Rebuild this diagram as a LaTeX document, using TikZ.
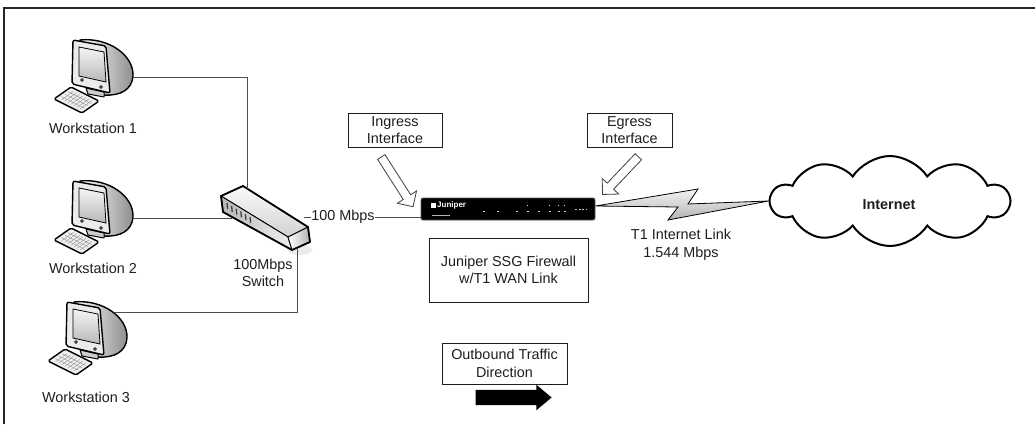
\documentclass[tikz,border=0pt]{standalone}
\usepackage{fontspec}
\setmainfont{Liberation Sans}
\usetikzlibrary{shapes.symbols,shapes.arrows}

\definecolor{wiregray}{HTML}{4D4D4D}
\definecolor{txt}{HTML}{1E1E1E}

\tikzset{
  lbl/.style={font=\fontsize{14.4}{17.5}\selectfont, text=txt, align=center, inner sep=0pt},
  callout/.style={lbl, draw=txt, line width=0.9pt, fill=white},
  wire/.style={draw=wiregray, line width=1pt},
  outline/.style={draw=black, line width=1.4pt, line join=round},
  hollowarrow/.style={single arrow, draw=black!75, fill=white, line width=0.8pt,
    inner xsep=0pt, inner ysep=4pt, single arrow head extend=7pt,
    single arrow tip angle=90},
  % CRT monitor with keyboard
  workstation/.pic={
    % curved back shell
    \draw[outline, left color=white, right color=black!45]
      (80,40) .. controls (108,37) and (134,55) .. (133,76)
              .. controls (132,90) and (120,96) .. (104,95) -- cycle;
    % stand
    \draw[outline, line width=1pt, fill=black!20] (86,88) -- (104,92) -- (104,97) -- (88,94) -- cycle;
    % front bezel
    \draw[outline, fill=black!8, rounded corners=2pt] (73,40) -- (106,46) -- (110,93) -- (72,84) -- cycle;
    % screen
    \draw[draw=black, line width=0.8pt, top color=black!4, bottom color=black!28]
      (79,47) -- (104,52) -- (106,82) -- (79,76) -- cycle;
    % knobs
    \draw[line width=0.6pt, fill=white] (82,80) circle (1.4) (101,87) circle (1.4);
    % keyboard in its own slanted frame
    \begin{scope}[shift={(54,99)}, x={(28pt,-14pt)}, y={(17pt,12pt)}]
      \draw[outline, fill=black!6, rounded corners=1.5pt] (0,0) -- (1,0) -- (1,1) -- (0,1) -- cycle;
      \foreach \s in {0.3,0.5,0.7}
        \draw[black!45, line width=0.4pt] (0.08,\s) -- (0.92,\s);
      \foreach \t in {0.18,0.29,0.4,0.51,0.62,0.73,0.84}
        \draw[black!45, line width=0.4pt] (\t,0.15) -- (\t,0.85);
    \end{scope}
    \coordinate (-port) at (133,77);
    \coordinate (-upper) at (121,50);
  }
}

\begin{document}
\begin{tikzpicture}[x=1pt, y=-1pt]
  \useasboundingbox (0,0) rectangle (1035,424);
  \fill[white] (0,0) rectangle (1035,424);

  % frame
  \draw[black!85, line width=1.6pt] (4,424) -- (4,8) -- (1035,8);

  % workstations
  \pic (ws1) at (0,0) {workstation};
  \pic (ws2) at (0,141) {workstation};
  \pic (ws3) at (-6,262) {workstation};
  \node[lbl] (ws1lbl) at (93,128) {Workstation 1};
  \node[lbl] (ws2lbl) at (93,268) {Workstation 2};
  \node[lbl] (ws3lbl) at (86,397) {Workstation 3};

  % switch
  \coordinate (p1) at (221,196);
  \coordinate (p2) at (243,186);
  \coordinate (p3) at (308,227);
  \coordinate (p4) at (288,237);
  \coordinate (p5) at (292,250);
  \coordinate (p6) at (310,242);
  \coordinate (p7) at (223,212);
  \fill[black!8] (300,250) ellipse (12 and 5);
  \draw[black, line width=0.9pt, top color=black!2, bottom color=black!18] (p1) -- (p2) -- (p3) -- (p4) -- cycle;
  \draw[black, line width=0.9pt, left color=black!28, right color=black!6] (p1) -- (p4) -- (p5) -- (p7) -- cycle;
  \draw[black, line width=0.9pt, left color=white, right color=black!30] (p4) -- (p3) -- (p6) -- (p5) -- cycle;
  \draw[outline, line width=1.8pt] (p1) -- (p2) -- (p3) -- (p6) -- (p5) -- (p7) -- cycle;
  \foreach \i in {0,...,5}
    \draw[black!75, line width=1.3pt] ({227+4.6*\i},{203+2.8*\i}) -- ({227.6+4.6*\i},{209+2.8*\i});
  \coordinate (sw-top) at (247,189);
  \coordinate (sw-left) at (232,218);
  \coordinate (sw-bottom) at (297,248);
  \coordinate (sw-east) at (304,217);
  \node[lbl] (swlbl) at (263,273) {100Mbps\\Switch};

  % wiring to the switch
  \draw[wire] (ws1-port) -| (sw-top);
  \draw[wire] (ws2-port) -- (sw-left);
  \draw[wire] (ws3-upper) -| (sw-bottom);

  % firewall appliance
  \node[fill=black, draw=black!65, line width=0.8pt, rounded corners=2pt,
        minimum width=174pt, minimum height=22pt, inner sep=0pt] (fw) at (508,209) {};
  \fill[white] (431,203) rectangle (436,208);
  \node[font=\fontsize{8}{8}\selectfont\bfseries, text=white, inner sep=0pt, anchor=west] (fwlogo) at (437,205.5) {Juniper};
  \draw[white!70!black, line width=0.6pt] (432,215.5) -- (450,215.5);
  \foreach \x in {483,497,516,527,538,549,558,564}
    \fill[white!85!black] (\x,210.5) rectangle +(1.6,1.6);
  \foreach \x in {527,549,558,564}
    \fill[white!85!black] (\x,205) rectangle +(1.2,1.2);
  \draw[white!80!black, line width=0.7pt, dash pattern=on 2pt off 1.5pt] (575,209.5) -- (587,209.5);

  % LAN link
  \draw[wire] (sw-east) -- (fw.west |- sw-east);
  \node[lbl, fill=white, inner xsep=0.5pt] (lanlbl) at (343,217) {100 Mbps};

  % internet cloud
  \node[cloud, cloud puffs=10, cloud puff arc=115, cloud ignores aspect, draw=black, line width=2pt,
        fill=white, minimum width=238pt, minimum height=90pt, inner sep=0pt] (net) at (890,201) {};
  \node[lbl, font=\fontsize{14.4}{17.5}\selectfont\bfseries] (netlbl) at (889,205) {Internet};

  % T1 serial link
  \draw[black, line width=0.8pt, top color=black!4, bottom color=black!30]
    ([yshift=3pt]fw.east) -- (698,189) -- (688,204) -- (net.west) -- (668,220) -- (678,207) -- cycle;
  \node[lbl] (t1lbl) at (681,245) {T1 Internet Link\\1.544 Mbps};

  % callouts
  \node[callout, minimum width=94pt, minimum height=34pt] (ingress) at (395,130) {Ingress\\Interface};
  \node[callout, minimum width=85pt, minimum height=34pt] (egress) at (629.5,130) {Egress\\Interface};
  \node[callout, minimum width=159pt, minimum height=64pt] (fwbox) at (508.5,270) {Juniper SSG Firewall\\w/T1 WAN Link};
  \node[callout, minimum width=125pt, minimum height=41pt] (outbox) at (504.5,363.5) {Outbound Traffic\\Direction};

  % interface pointers
  \node[hollowarrow, minimum height=59pt, rotate=-57.4] (inarrow) at (396,180) {};
  \node[hollowarrow, minimum height=52pt, rotate=-133.5] (egarrow) at (622,174) {};

  % traffic direction
  \node[single arrow, fill=black, minimum height=76pt, inner xsep=0pt, inner ysep=7.5pt,
        single arrow head extend=5pt, single arrow tip angle=80] (dir) at (509,397.5) {};
\end{tikzpicture}
\end{document}
